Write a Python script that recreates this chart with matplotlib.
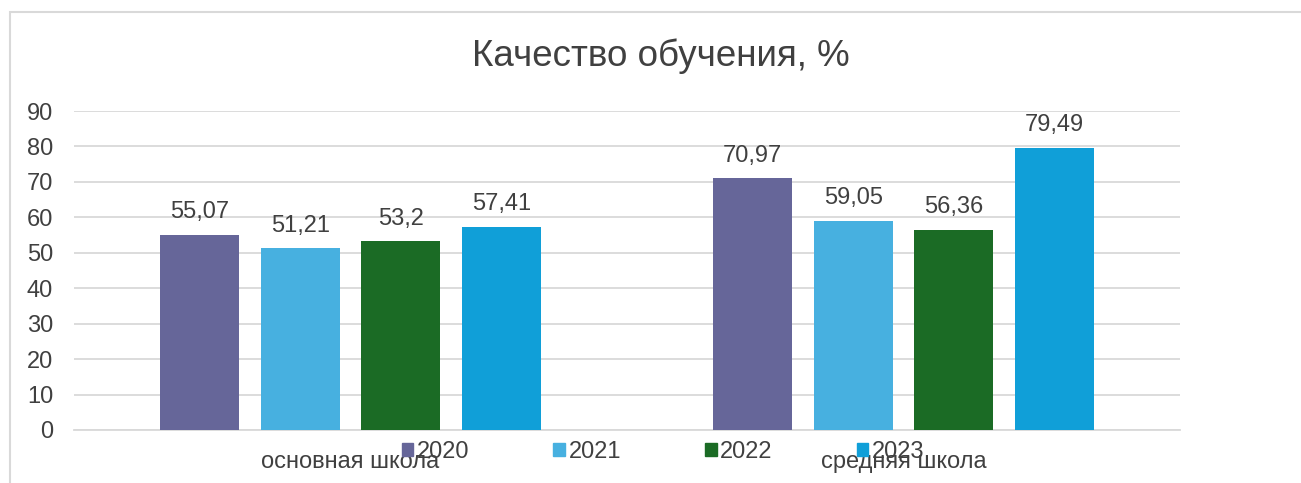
import matplotlib.pyplot as plt
from matplotlib.patches import Rectangle, Patch
import numpy as np

categories = ['основная школа', 'средняя школа']
years = ['2020', '2021', '2022', '2023']
values = {
    '2020': [55.07, 70.97],
    '2021': [51.21, 59.05],
    '2022': [53.2, 56.36],
    '2023': [57.41, 79.49],
}
colors = ['#666699', '#47B0E0', '#1B6B25', '#109FD8']
yticks = list(range(0, 100, 10))

plt.rcParams['font.family'] = ['Liberation Sans', 'DejaVu Sans']
text_color = '#404040'
grid_color = '#d9d9d9'
fs = 17

fig = plt.figure(figsize=(13.01, 4.83), dpi=100)
W, H = 1301, 483
ax = fig.add_axes([74 / W, 53 / H, (1180 - 74) / W, (430 - 111) / H])

x = np.arange(len(categories))
width = 79 / 553
step = 100.5 / 553
for i, yr in enumerate(years):
    offs = (i - 1.5) * step
    bars = ax.bar(x + offs, values[yr], width, color=colors[i], label=yr, zorder=3)
    ax.bar_label(bars, labels=[f'{v:g}'.replace('.', ',') for v in values[yr]],
                 padding=8.5, fontsize=fs, color=text_color)

ax.set_xlim(-0.5, 1.5)
ax.set_ylim(0, 90)
ax.set_yticks(yticks)
ax.set_yticklabels([str(t) for t in yticks])
ax.yaxis.grid(True, color=grid_color, lw=1.3, zorder=0)
ax.set_xticks(x)
ax.set_xticklabels(categories)
ax.tick_params(axis='x', length=0, pad=15, labelsize=fs, labelcolor=text_color)
ax.tick_params(axis='y', length=0, pad=15, labelsize=fs, labelcolor=text_color)
for s in ['top', 'right', 'left']:
    ax.spines[s].set_visible(False)
ax.spines['bottom'].set_color(grid_color)
ax.spines['bottom'].set_linewidth(1.3)

fig.text(661 / W, 1 - 56 / H, 'Качество обучения, %', ha='center', va='center',
         fontsize=26.5, color=text_color)

handles = [Patch(color=c) for c in colors]
fig.legend(handles, years, loc='center', bbox_to_anchor=(663 / W, 1 - 452 / H),
           ncol=4, frameon=False, fontsize=fs, handlelength=0.5, handleheight=0.5,
           handletextpad=0.15, columnspacing=3.55, labelcolor=text_color)

fig.patches.append(Rectangle((9.5 / W, -0.1), 1.1, 1 - 11.5 / H + 0.1,
                             transform=fig.transFigure, fill=False,
                             edgecolor=grid_color, lw=1.5))

fig.savefig('out.png', dpi=100)
